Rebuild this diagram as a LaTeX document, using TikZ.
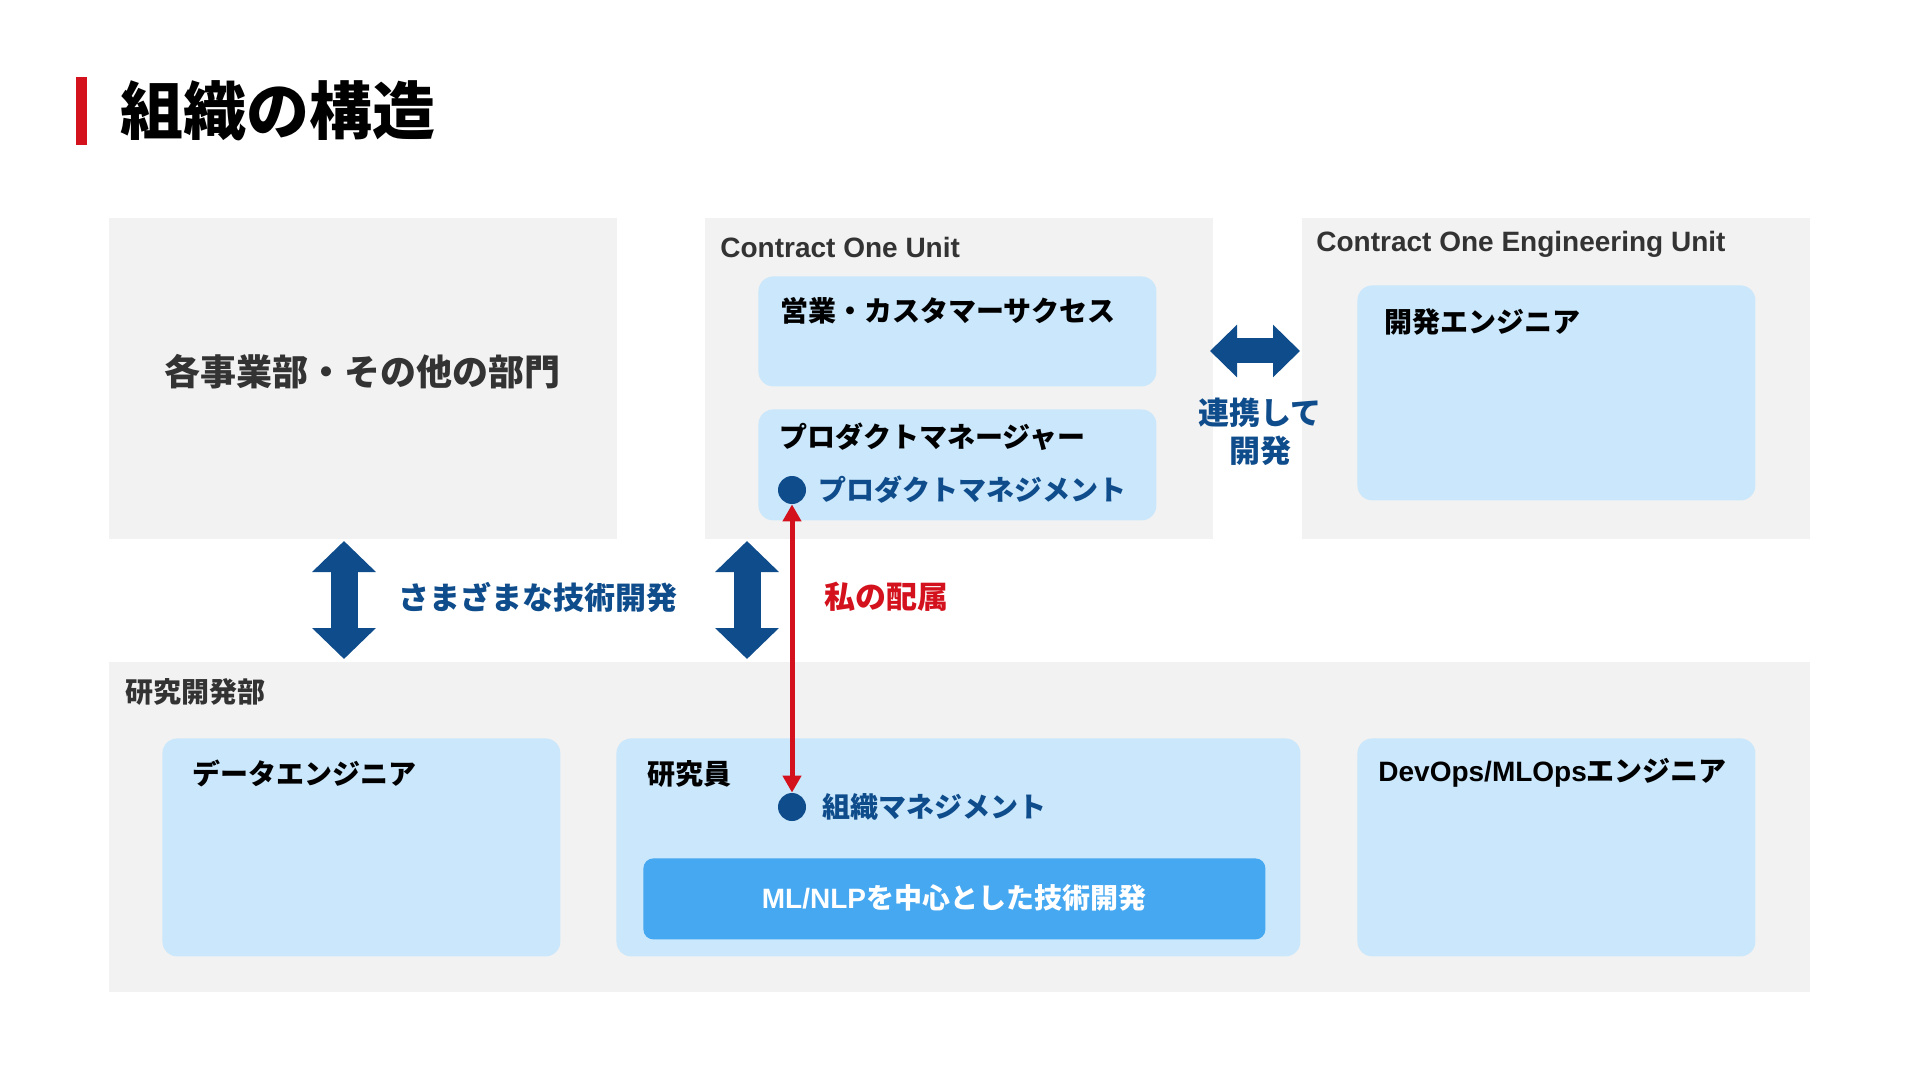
\documentclass[tikz,border=0pt]{standalone}
\usepackage{fontspec}
\setmainfont{Noto Sans CJK JP}
\newfontfamily\enfont{Liberation Sans}
\usetikzlibrary{positioning,arrows.meta}
\definecolor{bggray}{HTML}{F2F2F2}
\definecolor{boxblue}{HTML}{CAE7FB}
\definecolor{btnblue}{HTML}{45A8F0}
\definecolor{navy}{HTML}{0E4C8B}
\definecolor{accent}{HTML}{D4121D}
\definecolor{textgray}{HTML}{333333}

\begin{document}
\begin{tikzpicture}[x=0.5pt, y=-0.5pt,
  group/.style={fill=bggray, anchor=north west, inner sep=0pt},
  unit/.style={fill=boxblue, rounded corners=7.5pt, anchor=north west, inner sep=0pt},
  lbl/.style={anchor=west, inner sep=0pt, font=\bfseries\fontsize{14pt}{17pt}\selectfont},
  grouplbl/.style={lbl, text=textgray},
  note/.style={inner sep=0pt, text=navy, font=\bfseries\fontsize{15.5pt}{19pt}\selectfont},
  dot/.style={circle, fill=navy, minimum size=14pt, inner sep=0pt},
  bigarrow/.style={navy, line width=13.5pt,
    {Triangle[length=15.5pt,width=31pt]}-{Triangle[length=15.5pt,width=31pt]}},
  sidearrow/.style={navy, line width=12.5pt,
    {Triangle[length=13.5pt,width=25.5pt]}-{Triangle[length=13.5pt,width=25.5pt]}},
  mine/.style={accent, line width=2.5pt,
    {Triangle[length=8.5pt,width=9pt]}-{Triangle[length=8.5pt,width=9pt]}},
]

% Canvas
\fill[white] (0,0) rectangle (1920,1080);
\useasboundingbox (0,0) rectangle (1920,1080);

% Title
\node[fill=accent, anchor=north west, inner sep=0pt,
      minimum width=5.5pt, minimum height=34pt] (bar) at (76,77) {};
\node[anchor=west, inner sep=0pt, font=\bfseries\fontsize{31.5pt}{36pt}\selectfont]
  (title) at (120,111) {組織の構造};

% Upper groups
\node[group, minimum width=254pt, minimum height=160.5pt] (other) at (109,218) {};
\node[group, minimum width=254pt, minimum height=160.5pt] (cou) at (705,218) {};
\node[group, minimum width=254pt, minimum height=160.5pt] (ceu) at (1302,218) {};

\node[inner sep=0pt, text=textgray, font=\bfseries\fontsize{18pt}{22pt}\selectfont]
  (otherlbl) at (362,372) {各事業部・その他の部門};
\node[grouplbl, font=\enfont\bfseries\fontsize{14pt}{17pt}\selectfont]
  (coulbl) at (720,247) {Contract One Unit};
\node[grouplbl, font=\enfont\bfseries\fontsize{14pt}{17pt}\selectfont]
  (ceulbl) at (1316,244) {Contract One Engineering Unit};

% Contract One Unit members
\node[unit, minimum width=199pt, minimum height=55pt] (sales) at (758,276) {};
\node[lbl] (saleslbl) at (780,311) {営業・カスタマーサクセス};
\node[unit, minimum width=199pt, minimum height=55.5pt] (pm) at (758,409) {};
\node[lbl] (pmlbl) at (779,437) {プロダクトマネージャー};
\node[dot] (pmdot) at (792,490) {};
\node[note, anchor=west, font=\bfseries\fontsize{14pt}{17pt}\selectfont]
  (pmtext) at (818,490) {プロダクトマネジメント};

% Engineering unit
\node[unit, minimum width=199pt, minimum height=107.5pt] (deveng) at (1357,285) {};
\node[lbl] (devenglbl) at (1384,322) {開発エンジニア};

% Collaboration
\coordinate (hza) at (1210,351);
\coordinate (hzb) at (1300,351);
\draw[sidearrow] (hza) -- (hzb);
\node[note, align=center] (collab) at (1260,432) {連携して\\開発};

% Lower group
\node[group, minimum width=850.5pt, minimum height=165pt] (rd) at (109,662) {};
\node[grouplbl] (rdlbl) at (125,692) {研究開発部};

\node[unit, minimum width=199pt, minimum height=109pt] (dataeng) at (162,738) {};
\node[lbl] (dataenglbl) at (192,773) {データエンジニア};
\node[unit, minimum width=342pt, minimum height=109pt] (researcher) at (616,738) {};
\node[lbl] (researcherlbl) at (647,774) {研究員};
\node[dot] (omdot) at (792,807) {};
\node[note, anchor=west, font=\bfseries\fontsize{14pt}{17pt}\selectfont]
  (omtext) at (822,807) {組織マネジメント};
\node[fill=btnblue, rounded corners=5pt, anchor=north west, inner sep=0pt,
      minimum width=311pt, minimum height=40.5pt] (mlnlp) at (643,858) {};
\node[inner sep=0pt, text=white, font=\bfseries\fontsize{14pt}{16pt}\selectfont]
  (mlnlptext) at (954,898) {{\enfont ML/NLP}を中心とした技術開発};
\node[unit, minimum width=199pt, minimum height=109pt] (devops) at (1357,738) {};
\node[lbl] (devopslbl) at (1378,773) {{\enfont DevOps/MLOps}エンジニア};

% Links between upper and lower groups
\coordinate (va1) at (344,541);
\coordinate (vb1) at (344,659);
\coordinate (va2) at (747,541);
\coordinate (vb2) at (747,659);
\draw[bigarrow] (va1) -- (vb1);
\draw[bigarrow] (va2) -- (vb2);
\node[note, anchor=west] (variety) at (398,597) {さまざまな技術開発};

% My assignment
\draw[mine] (pmdot.south) -- (omdot.north);
\node[note, anchor=west, text=accent] (minelbl) at (824,597) {私の配属};

\end{tikzpicture}
\end{document}
